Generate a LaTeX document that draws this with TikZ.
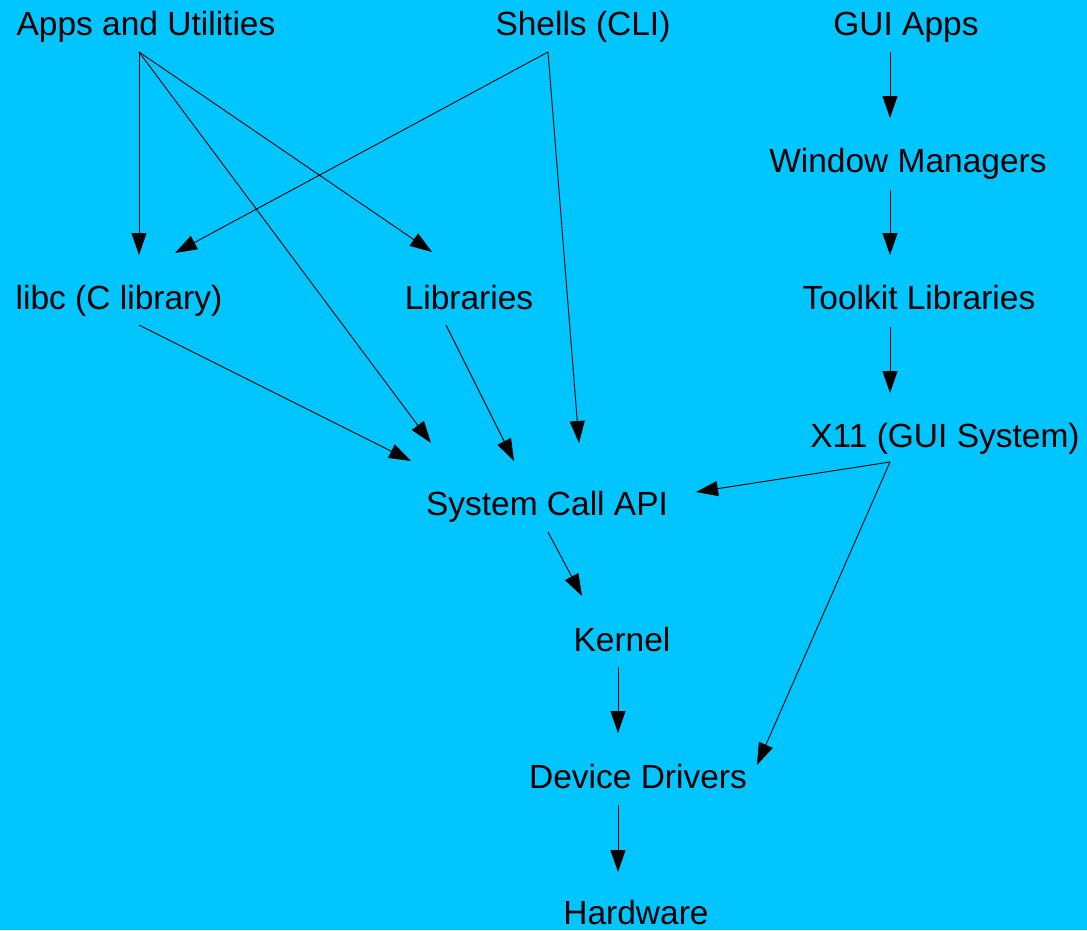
\documentclass[tikz,border=0pt]{standalone}
\usepackage{fontspec}
\setmainfont{Liberation Sans}
\usetikzlibrary{arrows.meta}
\definecolor{bg}{RGB}{0,197,255}
\begin{document}
\begin{tikzpicture}[x=1pt,y=-1pt,
  lbl/.style={anchor=base,inner sep=0pt,font=\fontsize{33.5}{40}\selectfont},
  arr/.style={draw=black,line width=0.9pt,-{Triangle[length=22pt,width=15pt]}}]
\fill[bg] (0,0) rectangle (1087,930);
\useasboundingbox (0,0) rectangle (1087,930);
\node[lbl] (apps) at (146,35) {Apps and Utilities};
\node[lbl] (shells) at (583,35) {Shells (CLI)};
\node[lbl] (gui) at (906,35) {GUI Apps};
\node[lbl] (wm) at (908,172) {Window Managers};
\node[lbl] (libc) at (119,309) {libc (C library)};
\node[lbl] (libs) at (469,309) {Libraries};
\node[lbl] (tk) at (919,309) {Toolkit Libraries};
\node[lbl] (x11) at (945,447) {X11 (GUI System)};
\node[lbl] (sca) at (547,515) {System Call API};
\node[lbl] (kernel) at (622,651) {Kernel};
\node[lbl] (dd) at (638,788) {Device Drivers};
\node[lbl] (hw) at (636,924) {Hardware};
\draw[arr] ([shift={(-7,17)}]apps.base) -- ([shift={(20,-54)}]libc.base);
\draw[arr] ([shift={(-7,17)}]apps.base) -- ([shift={(-116,-72)}]sca.base);
\draw[arr] ([shift={(-7,17)}]apps.base) -- ([shift={(-37,-57)}]libs.base);
\draw[arr] ([shift={(-35,17)}]shells.base) -- ([shift={(56,-56)}]libc.base);
\draw[arr] ([shift={(-35,17)}]shells.base) -- ([shift={(32,-72)}]sca.base);
\draw[arr] ([shift={(-16,17)}]gui.base) -- ([shift={(-18,-54)}]wm.base);
\draw[arr] ([shift={(-18,18)}]wm.base) -- ([shift={(-29,-54)}]tk.base);
\draw[arr] ([shift={(-29,18)}]tk.base) -- ([shift={(-55,-54)}]x11.base);
\draw[arr] ([shift={(20,16)}]libc.base) -- ([shift={(-136,-54)}]sca.base);
\draw[arr] ([shift={(-23,16)}]libs.base) -- ([shift={(-33,-54)}]sca.base);
\draw[arr] ([shift={(-55,15)}]x11.base) -- ([shift={(149,-23)}]sca.base);
\draw[arr] ([shift={(-55,15)}]x11.base) -- ([shift={(119,-23)}]dd.base);
\draw[arr] ([shift={(1,17)}]sca.base) -- ([shift={(-40,-55)}]kernel.base);
\draw[arr] ([shift={(-4,16)}]kernel.base) -- ([shift={(-20,-55)}]dd.base);
\draw[arr] ([shift={(-20,17)}]dd.base) -- ([shift={(-18,-52)}]hw.base);
\end{tikzpicture}
\end{document}
